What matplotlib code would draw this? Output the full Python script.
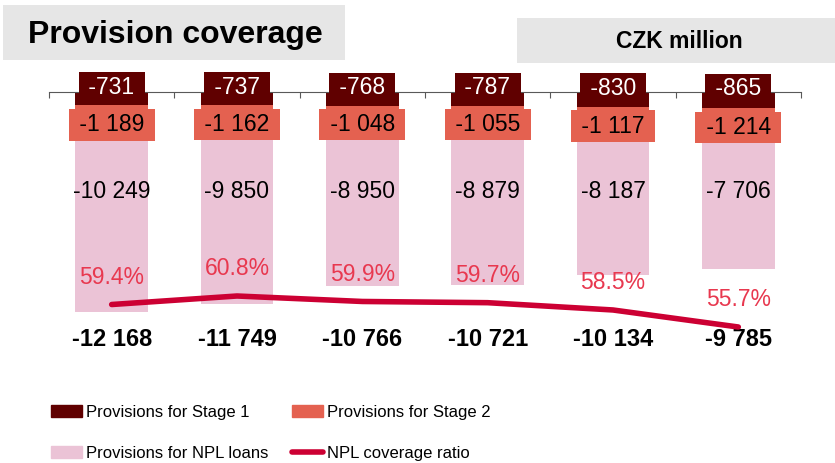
import numpy as np
import matplotlib
matplotlib.use("Agg")
import matplotlib.pyplot as plt
from matplotlib import font_manager
from matplotlib.patches import Rectangle, Patch
from matplotlib.lines import Line2D

plt.rcParams['font.family'] = ['Liberation Sans', 'DejaVu Sans']

# provisions, CZK million (negative = provisions)
stage1 = np.array([-731, -737, -768, -787, -830, -865])
stage2 = np.array([-1189, -1162, -1048, -1055, -1117, -1214])
npl = np.array([-10249, -9850, -8950, -8879, -8187, -7706])
totals = [-12168, -11749, -10766, -10721, -10134, -9785]
coverage = [59.4, 60.8, 59.9, 59.7, 58.5, 55.7]

c_s1 = '#600000'
c_s2 = '#E46150'
c_npl = '#EBC3D6'
c_line = '#CC0033'
c_pct = '#E8384F'

W, H = 835, 463
fig = plt.figure(figsize=(W / 100, H / 100), dpi=100)


def fx(px):
    return px / W


def fy(py):
    return 1 - py / H


def fmt(v):
    return f"{v:,}".replace(",", " ")


# header boxes
fig.patches.append(Rectangle((fx(3), fy(60)), fx(342), 55 / H, transform=fig.transFigure,
                             facecolor='#E6E6E6', edgecolor='none', zorder=0))
fig.text(fx(28), fy(43), 'Provision coverage', fontsize=23, fontweight='bold', va='baseline')
fig.patches.append(Rectangle((fx(517), fy(63)), fx(318), 45 / H, transform=fig.transFigure,
                             facecolor='#E6E6E6', edgecolor='none', zorder=0))
fig.text(fx(679), fy(48), 'CZK million', fontsize=16.5, fontweight='bold', va='baseline', ha='center')

# main axes: y=0 sits at the top edge
top_px, bot_px = 92, 360
ax = fig.add_axes([fx(49), fy(bot_px), fx(752), (bot_px - top_px) / H])
px_per_unit = 0.01804
ax.set_ylim(-(bot_px - top_px) / px_per_unit, 0)
ax.set_xlim(-0.5, 5.5)

x = np.arange(len(stage1))
bw = 0.58
ax.bar(x, stage1, bw, color=c_s1, zorder=2)
ax.bar(x, stage2, bw, bottom=stage1, color=c_s2, zorder=2)
ax.bar(x, npl, bw, bottom=stage1 + stage2, color=c_npl, zorder=2)

for s in ['left', 'right', 'bottom']:
    ax.spines[s].set_visible(False)
ax.spines['top'].set_color('#595959')
ax.xaxis.tick_top()
ax.set_xticks(np.arange(-0.5, 6, 1))
ax.tick_params(axis='x', direction='in', length=4.5, color='#595959', labeltop=False)
ax.set_yticks([])

for i in x:
    ax.annotate(f" {fmt(stage1[i])} ", (i, stage1[i] / 2), xytext=(0, 8), textcoords='offset points',
                ha='center', va='center', fontsize=16.5, color='white', zorder=5,
                bbox=dict(boxstyle='square,pad=0.16', facecolor=c_s1, edgecolor='none'))
    ax.annotate(f" {fmt(stage2[i])} ", (i, stage1[i] + stage2[i] / 2), xytext=(0, -6.5),
                textcoords='offset points', ha='center', va='center', fontsize=16.5,
                color='black', zorder=6,
                bbox=dict(boxstyle='square,pad=0.18', facecolor=c_s2, edgecolor='none'))
    ax.text(i, -5500, fmt(npl[i]), ha='center', va='center', fontsize=16.5, zorder=5)
    ax.text(i, -13692, fmt(totals[i]), ha='center', va='center', fontsize=17,
            fontweight='bold', zorder=5)

# coverage ratio on a secondary scale
ax2 = ax.twinx()
pp = 6.08
ax2.set_ylim(60.8 - (bot_px - 296) / pp, 60.8 + (296 - top_px) / pp)
ax2.axis('off')
ax2.plot(x, coverage, color=c_line, lw=4, solid_capstyle='round', solid_joinstyle='round')
for i in x:
    ax2.annotate(f"{coverage[i]:.1f}%", (i, coverage[i]), xytext=(0, 19.5), textcoords='offset points',
                 ha='center', va='center', fontsize=16.5, color=c_pct)

# legend
names = {f.name for f in font_manager.fontManager.ttflist}
if 'Liberation Sans Narrow' in names:
    leg_font = dict(family='Liberation Sans Narrow', size=13.4)
    colsp = 2.4
else:
    leg_font = dict(family='Liberation Sans', size=12)
    colsp = 1.44
handles = [Patch(color=c_s1), Patch(color=c_npl), Patch(color=c_s2),
           Line2D([], [], color=c_line, lw=4, solid_capstyle='round')]
labels = ['Provisions for Stage 1', 'Provisions for NPL loans',
          'Provisions for Stage 2', 'NPL coverage ratio']
fig.legend(handles, labels, loc='upper left', bbox_to_anchor=(fx(51), fy(405)), ncol=2,
           frameon=False, prop=leg_font, borderpad=0, borderaxespad=0,
           handlelength=1.85, handletextpad=0.24, columnspacing=colsp, labelspacing=1.54)

fig.savefig('out.png', dpi=100)
